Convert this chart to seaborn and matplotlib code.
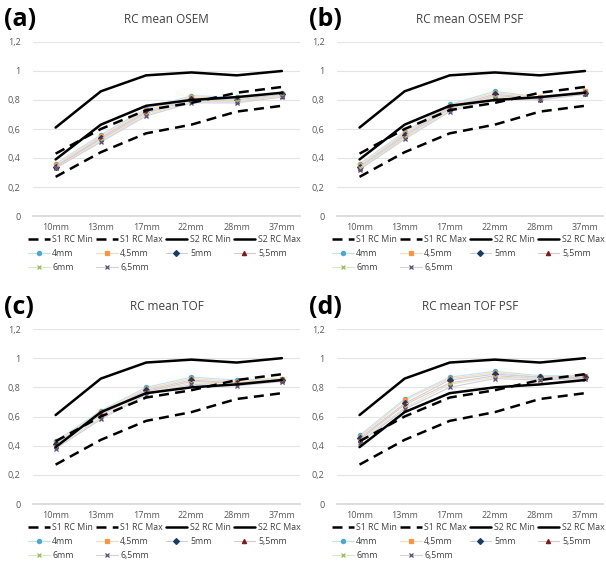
import numpy as np
import pandas as pd
import matplotlib
matplotlib.use("Agg")
import matplotlib.pyplot as plt
import seaborn as sns

sizes = ["10mm", "13mm", "17mm", "22mm", "28mm", "37mm"]

# reference limits (same in every panel)
s1_min = [0.27, 0.44, 0.57, 0.63, 0.72, 0.76]
s1_max = [0.43, 0.60, 0.73, 0.78, 0.85, 0.89]
s2_min = [0.39, 0.63, 0.76, 0.80, 0.82, 0.85]
s2_max = [0.61, 0.86, 0.97, 0.99, 0.97, 1.00]

filters = ["4mm", "4,5mm", "5mm", "5,5mm", "6mm", "6,5mm"]

osem = [
    [0.36, 0.56, 0.74, 0.83, 0.82, 0.85],
    [0.35, 0.55, 0.73, 0.82, 0.81, 0.84],
    [0.34, 0.54, 0.72, 0.81, 0.80, 0.84],
    [0.34, 0.53, 0.71, 0.80, 0.79, 0.83],
    [0.33, 0.52, 0.70, 0.79, 0.79, 0.83],
    [0.33, 0.51, 0.69, 0.78, 0.78, 0.82],
]
osem_psf = [
    [0.36, 0.58, 0.77, 0.86, 0.82, 0.86],
    [0.35, 0.57, 0.76, 0.85, 0.82, 0.86],
    [0.34, 0.56, 0.75, 0.84, 0.81, 0.85],
    [0.33, 0.55, 0.74, 0.83, 0.81, 0.85],
    [0.33, 0.54, 0.73, 0.82, 0.80, 0.84],
    [0.32, 0.53, 0.72, 0.81, 0.80, 0.84],
]
tof = [
    [0.43, 0.64, 0.80, 0.87, 0.85, 0.86],
    [0.42, 0.63, 0.79, 0.86, 0.84, 0.86],
    [0.41, 0.62, 0.78, 0.85, 0.83, 0.85],
    [0.40, 0.61, 0.77, 0.84, 0.83, 0.85],
    [0.39, 0.59, 0.76, 0.83, 0.82, 0.84],
    [0.38, 0.58, 0.75, 0.82, 0.81, 0.84],
]
tof_psf = [
    [0.47, 0.72, 0.87, 0.91, 0.88, 0.88],
    [0.46, 0.71, 0.86, 0.90, 0.87, 0.88],
    [0.45, 0.69, 0.85, 0.89, 0.87, 0.87],
    [0.44, 0.68, 0.83, 0.88, 0.86, 0.87],
    [0.43, 0.66, 0.82, 0.87, 0.86, 0.86],
    [0.42, 0.65, 0.80, 0.86, 0.85, 0.86],
]

panel_labels = ["(a)", "(b)", "(c)", "(d)"]
panel_titles = ["RC mean OSEM", "RC mean OSEM PSF", "RC mean TOF", "RC mean TOF PSF"]
panel_data = [osem, osem_psf, tof, tof_psf]

ref_names = ["S1 RC Min", "S1 RC Max", "S2 RC Min", "S2 RC Max"]
ref_values = [s1_min, s1_max, s2_min, s2_max]
ref_styles = [(0, (4, 2.5)), (0, (4, 2.5)), "-", "-"]

marker_colors = ["#4bacc6", "#f79646", "#1f3864", "#7b1c1c", "#9bbb59", "#5a4a78"]
line_colors = ["#bfe3ee", "#fbd9bd", "#c9cfdc", "#e3c5c5", "#dbe8c8", "#d3cde0"]
markers = ["o", "s", "D", "^", "x", "x"]

sns.set_theme(style="white")
plt.rcParams["font.family"] = ["Open Sans", "DejaVu Sans"]

fig = plt.figure(figsize=(6.06, 5.63), dpi=100)
W, H = 606, 563

# axes boxes in pixels: left, top(=1.2), right, bottom(=0)
boxes = [(33, 42, 300, 216), (337, 42, 603, 216),
         (33, 329, 300, 504), (337, 329, 603, 504)]
label_pos = [(4, 20), (309, 20), (4, 307), (309, 307)]

for i, ax_box in enumerate(boxes):
    l, t, r, b = ax_box
    ax = fig.add_axes([l / W, 1 - b / H, (r - l) / W, (b - t) / H])

    handles = []
    for name, vals, ls in zip(ref_names, ref_values, ref_styles):
        df = pd.DataFrame({"size": sizes, "rc": vals})
        sns.lineplot(data=df, x="size", y="rc", ax=ax, color="black",
                     linewidth=1.8, linestyle=ls, sort=False, zorder=3)
        handles.append(ax.lines[-1])
    for j, name in enumerate(filters):
        df = pd.DataFrame({"size": sizes, "rc": panel_data[i][j]})
        sns.lineplot(data=df, x="size", y="rc", ax=ax, color=line_colors[j],
                     linewidth=0.8, marker=markers[j], markersize=3,
                     markerfacecolor=marker_colors[j], markeredgecolor=marker_colors[j],
                     markeredgewidth=0.9, sort=False, zorder=2)
        handles.append(ax.lines[-1])

    ax.set_ylim(0, 1.2)
    ax.set_xlim(-0.5, 5.4)
    ax.set_yticks([0, 0.2, 0.4, 0.6, 0.8, 1.0, 1.2])
    ax.set_yticklabels(["0", "0,2", "0,4", "0,6", "0,8", "1", "1,2"])
    ax.tick_params(axis="both", labelsize=6.5, colors="#595959", length=0, pad=5)
    ax.tick_params(axis="y", pad=9)
    ax.set_xlabel("")
    ax.set_ylabel("")
    ax.grid(axis="y", color="#e4e4e4", linewidth=0.8)
    for s in ax.spines.values():
        s.set_visible(False)
    ax.spines["bottom"].set_visible(True)
    ax.spines["bottom"].set_color("#d9d9d9")

    ax.set_title(panel_titles[i], fontsize=8.5, color="#404040", pad=14)

    order = [0, 4, 8, 1, 5, 9, 2, 6, 3, 7]
    labels = ref_names + filters
    ax.legend([handles[k] for k in order], [labels[k] for k in order],
              loc="upper left", bbox_to_anchor=(-0.02, -0.11), ncol=4,
              fontsize=6.3, frameon=False, handlelength=2.5, handletextpad=0.3,
              columnspacing=0.3, labelspacing=0.55, borderaxespad=0,
              borderpad=0, labelcolor="#404040")

    fig.text(label_pos[i][0] / W, 1 - label_pos[i][1] / H, panel_labels[i],
             fontsize=18, fontweight="bold", va="center", ha="left", color="black")

fig.savefig("out.png", dpi=100)
